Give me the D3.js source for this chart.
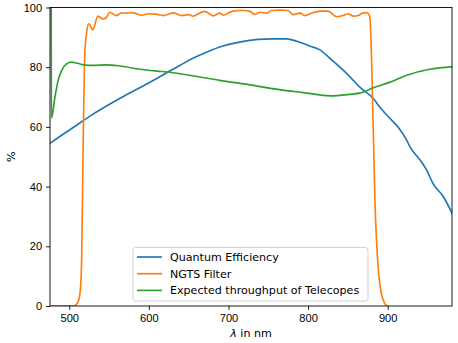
<!DOCTYPE html>
<html>
<head>
<meta charset="utf-8">
<style>
body { margin: 0; background: #fff; }
svg { font-family: "DejaVu Sans", sans-serif; }
.axis text { font-size: 11.1px; fill: #000; }
.axis path, .axis line { stroke: #000; stroke-width: 0.9px; }
.curve { fill: none; stroke-width: 1.67px; stroke-linejoin: round; stroke-linecap: square; }
</style>
</head>
<body>
<svg id="chart" width="458" height="343"></svg>
<script src="https://d3js.org/d3.v7.min.js"></script>
<script>

// wavelength (nm) and percent
var qeWave = [476, 478, 505, 526, 568, 610, 626, 639, 654, 673, 693, 714, 737, 756, 773, 786, 802, 815, 828, 840, 853, 865, 882, 890, 903, 913, 924, 928, 941, 949, 957, 970, 981];
var qeVal  = [54.5, 54.9, 59.8, 63.6, 70.2, 76.2, 78.7, 80.6, 82.8, 85.1, 87.1, 88.4, 89.3, 89.5, 89.5, 88.7, 87.1, 85.8, 82.8, 80, 76.7, 73.3, 69.5, 66.7, 62.8, 60, 55.5, 53.3, 48.8, 45.5, 41, 36.6, 31];

var filterWave = [476, 505, 508, 511, 513.5, 515.5, 517.5, 519.5, 521.5, 524.5, 529.5, 536, 542, 546, 551, 559, 566, 572, 580, 591, 599, 608, 618, 631, 641, 650, 656, 662, 670, 681, 689, 694, 700, 706, 714, 719, 727, 733, 740, 748, 754, 765, 775, 781, 790, 796, 804, 815, 825, 836, 844, 850, 857, 863, 869, 874, 877, 878, 880, 882, 884, 888, 892, 896, 899];
var filterVal  = [0, 0, 0.3, 1.4, 4.2, 15, 55, 84, 91, 94.5, 92.5, 97.1, 96.2, 96.5, 98.4, 97.3, 98.2, 98.1, 98.2, 97.4, 97.9, 97.8, 97.3, 98.2, 97.3, 97.6, 97.1, 97.9, 98.7, 97.2, 98.1, 97.4, 98.2, 98.8, 99, 99, 98.7, 97.7, 98.4, 98.1, 99, 99.1, 99, 97.6, 98.1, 97.3, 98.1, 98.8, 98.8, 96.9, 97.3, 97.9, 97.1, 97.3, 98.2, 98.3, 97.3, 95.6, 80, 57.8, 35.5, 13, 4.3, 1, 0];

var teleWave = [477.3, 477.6, 482, 486, 490.5, 497, 503, 509, 518, 530, 547, 564, 589, 610, 627, 639, 651, 689, 727, 764, 794, 828, 855, 865, 882, 903, 924, 953, 981];
var teleVal  = [100, 62.9, 70, 75.6, 78.9, 81.2, 81.7, 81.4, 80.8, 80.6, 80.8, 80.4, 79.3, 78.7, 78.3, 77.8, 77.3, 75.6, 74.1, 72.5, 71.5, 70.4, 71, 71.3, 73.1, 75, 77.3, 79.3, 80.1];

var seriesNames = ["Quantum Efficiency", "NGTS Filter", "Expected throughput of Telecopes"];
var colors = ["#1f77b4", "#ff7f0e", "#2ca02c"];
var xTicks = [500, 600, 700, 800, 900];
var yTicks = [0, 20, 40, 60, 80, 100];

var margin = {left: 50, right: 6, top: 7.5, bottom: 37};
var W = 458, H = 343;

var x = d3.scaleLinear().domain([475.8, 980.8]).range([margin.left, W - margin.right]);
var y = d3.scaleLinear().domain([0, 100]).range([H - margin.bottom, margin.top]);

var svg = d3.select("#chart");

svg.append("clipPath").attr("id", "clip")
  .append("rect")
  .attr("x", x.range()[0]).attr("y", y.range()[1])
  .attr("width", x.range()[1] - x.range()[0])
  .attr("height", y.range()[0] - y.range()[1]);

var series = [
  d3.zip(qeWave, qeVal),
  d3.zip(filterWave, filterVal),
  d3.zip(teleWave, teleVal)
];

var line = d3.line().curve(d3.curveMonotoneX).x(d => x(d[0])).y(d => y(d[1]));

svg.append("g").attr("clip-path", "url(#clip)")
  .selectAll("path")
  .data(series)
  .enter().append("path")
  .attr("class", "curve")
  .attr("stroke", (d, i) => colors[i])
  .attr("d", line);

// axes
svg.append("g")
  .attr("class", "axis")
  .attr("transform", "translate(0," + y.range()[0] + ")")
  .call(d3.axisBottom(x).tickValues(xTicks).tickSize(3.9).tickPadding(3.9))
  .call(g => g.select(".domain").remove());

svg.append("g")
  .attr("class", "axis")
  .attr("transform", "translate(" + x.range()[0] + ",0)")
  .call(d3.axisLeft(y).tickValues(yTicks).tickSize(3.9).tickPadding(3.9))
  .call(g => g.select(".domain").remove());

// frame
svg.append("rect")
  .attr("x", x.range()[0]).attr("y", y.range()[1])
  .attr("width", x.range()[1] - x.range()[0])
  .attr("height", y.range()[0] - y.range()[1])
  .attr("fill", "none").attr("stroke", "#000").attr("stroke-width", 0.9);

// labels
var xl = svg.append("text")
  .attr("x", (x.range()[0] + x.range()[1]) / 2)
  .attr("y", 337)
  .attr("text-anchor", "middle")
  .attr("font-size", 11.1);
xl.append("tspan").attr("font-style", "italic").text("λ");
xl.append("tspan").text(" in nm");

svg.append("text")
  .attr("transform", "translate(15," + ((y.range()[0] + y.range()[1]) / 2) + ") rotate(-90)")
  .attr("text-anchor", "middle")
  .attr("font-size", 11.1)
  .text("%");

// legend
var lg = svg.append("g").attr("transform", "translate(133,247.5)");
lg.append("rect")
  .attr("width", 235).attr("height", 53.5)
  .attr("rx", 2.5)
  .attr("fill", "#fff").attr("fill-opacity", 0.8)
  .attr("stroke", "#cccccc").attr("stroke-width", 0.9);

var items = lg.selectAll(".item")
  .data(seriesNames)
  .enter().append("g")
  .attr("transform", (d, i) => "translate(0," + (9.5 + i * 16.7) + ")");
items.append("line")
  .attr("x1", 4).attr("x2", 29)
  .attr("stroke", (d, i) => colors[i]).attr("stroke-width", 1.67);
items.append("text")
  .attr("x", 37).attr("dy", "0.35em")
  .attr("font-size", 11.1)
  .text(d => d);

</script>
</body>
</html>
